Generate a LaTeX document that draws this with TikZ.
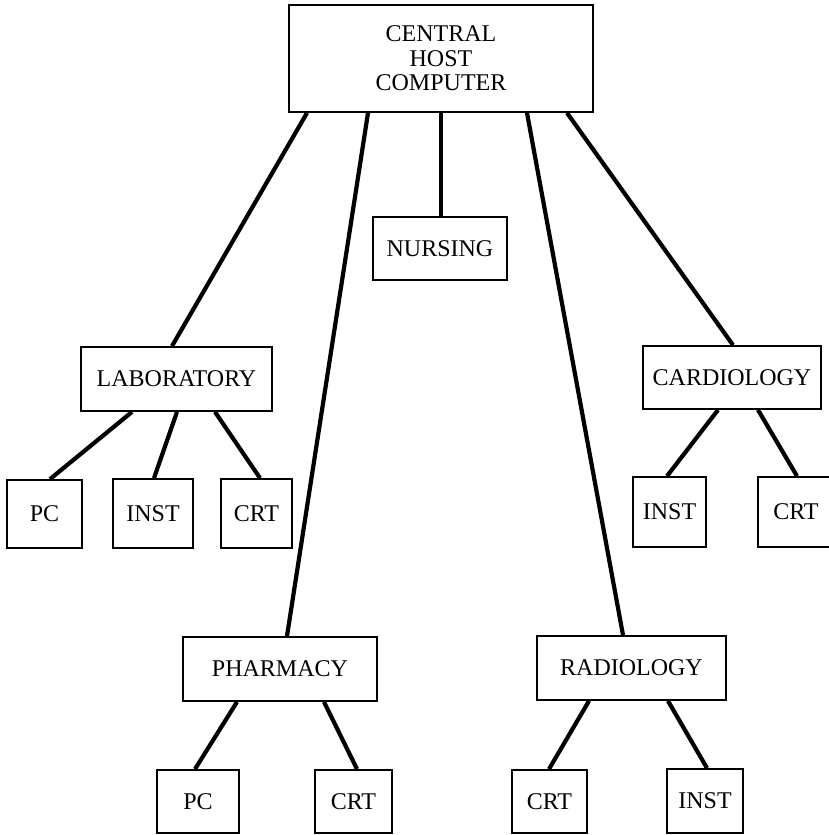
\documentclass[tikz,border=0pt]{standalone}
\usepackage{fontspec}
\setmainfont{Liberation Serif}
\begin{document}
\begin{tikzpicture}[x=1pt,y=-1pt,
  unit/.style={draw, line width=1.8pt, inner sep=0pt, align=center,
    font=\fontsize{24}{24.5}\selectfont},
  link/.style={line width=4.2pt}]
\useasboundingbox (0,0) rectangle (828,835);

% host and departments
\node[unit, minimum width=304pt, minimum height=107pt] (host) at (441,58.5) {CENTRAL\\HOST\\COMPUTER};
\node[unit, minimum width=134pt, minimum height=63pt] (nurse) at (440,248.5) {NURSING};
\node[unit, minimum width=191pt, minimum height=64pt] (lab) at (176.5,379) {LABORATORY};
\node[unit, minimum width=178pt, minimum height=63pt] (card) at (732,377.5) {CARDIOLOGY};
\node[unit, minimum width=194pt, minimum height=64pt] (pharm) at (280,669) {PHARMACY};
\node[unit, minimum width=189pt, minimum height=64pt] (rad) at (631.5,668) {RADIOLOGY};

% terminals
\node[unit, minimum width=75pt, minimum height=68pt] (lpc) at (44.5,514) {PC};
\node[unit, minimum width=80pt, minimum height=69pt] (linst) at (153,513.5) {INST};
\node[unit, minimum width=71pt, minimum height=69pt] (lcrt) at (256.5,513.5) {CRT};
\node[unit, minimum width=73pt, minimum height=70pt] (cinst) at (669.5,512) {INST};
\node[unit, minimum width=76pt, minimum height=70pt] (ccrt) at (796,512) {CRT};
\node[unit, minimum width=82pt, minimum height=63pt] (ppc) at (198,801.5) {PC};
\node[unit, minimum width=77pt, minimum height=63pt] (pcrt) at (353.5,801.5) {CRT};
\node[unit, minimum width=75pt, minimum height=63pt] (rcrt) at (549.5,801.5) {CRT};
\node[unit, minimum width=76pt, minimum height=64pt] (rinst) at (705,801) {INST};

% host links
\draw[link] ([xshift=-134pt]host.south) -- ([xshift=-4.5pt]lab.north);
\draw[link] ([xshift=-73pt]host.south) -- ([xshift=7pt]pharm.north);
\draw[link] (host.south) -- ([xshift=1pt]nurse.north);
\draw[link] ([xshift=86pt]host.south) -- ([xshift=-8.5pt]rad.north);
\draw[link] ([xshift=126pt]host.south) -- ([xshift=1pt]card.north);

% department links
\draw[link] ([xshift=-44.5pt]lab.south) -- ([xshift=5.5pt]lpc.north);
\draw[link] ([xshift=0.5pt]lab.south) -- ([xshift=1pt]linst.north);
\draw[link] ([xshift=38.5pt]lab.south) -- ([xshift=3.5pt]lcrt.north);
\draw[link] ([xshift=-14pt]card.south) -- ([xshift=-2.5pt]cinst.north);
\draw[link] ([xshift=26pt]card.south) -- ([xshift=1pt]ccrt.north);
\draw[link] ([xshift=-43pt]pharm.south) -- ([xshift=-3pt]ppc.north);
\draw[link] ([xshift=44pt]pharm.south) -- ([xshift=3.5pt]pcrt.north);
\draw[link] ([xshift=-42.5pt]rad.south) -- ([xshift=-0.5pt]rcrt.north);
\draw[link] ([xshift=36.5pt]rad.south) -- ([xshift=2pt]rinst.north);
\end{tikzpicture}
\end{document}
